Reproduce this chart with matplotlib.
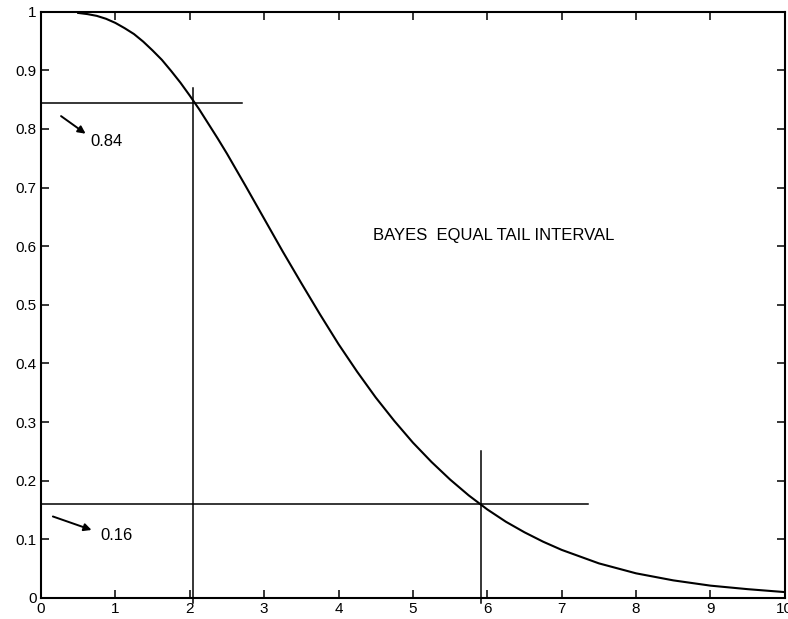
import numpy as np
import matplotlib
matplotlib.use("Agg")
import matplotlib.pyplot as plt

plt.rcParams['font.family'] = ['Liberation Sans', 'DejaVu Sans']

# posterior curve
mu = [0.5, 0.625, 0.75, 0.875, 1.0, 1.125, 1.25, 1.375, 1.5, 1.625, 1.75,
      1.875, 2.0, 2.125, 2.25, 2.375, 2.5, 2.75, 3.0, 3.25, 3.5,
      3.75, 4.0, 4.25, 4.5, 4.75, 5.0, 5.25, 5.5, 5.75, 6.0, 6.25, 6.5, 6.75,
      7.0, 7.5, 8.0, 8.5, 9.0, 9.5, 10.0]
prob = [0.998, 0.996, 0.993, 0.988, 0.981, 0.972, 0.962, 0.949, 0.934, 0.918,
        0.899, 0.879, 0.857, 0.834, 0.809, 0.784, 0.758, 0.703,
        0.647, 0.591, 0.537, 0.484, 0.433, 0.386, 0.342, 0.302, 0.265, 0.232,
        0.202, 0.175, 0.151, 0.130, 0.112, 0.096, 0.082, 0.059, 0.042, 0.030,
        0.021, 0.015, 0.010]

# interval limits
lower_mu, upper_mu = 2.05, 5.92
upper_p, lower_p = 0.845, 0.16
hline_ends = [2.7, 7.35]
vline_tops = [0.87, 0.25]

fig = plt.figure(figsize=(7.88, 6.19), dpi=100)
ax = fig.add_axes([0.052, 0.034, 0.944, 0.947])

ax.plot(mu, prob, color='black', lw=1.5)

ax.plot([0, hline_ends[0]], [upper_p, upper_p], color='black', lw=1.1)
ax.plot([0, hline_ends[1]], [lower_p, lower_p], color='black', lw=1.1)
ax.plot([lower_mu, lower_mu], [-0.008, vline_tops[0]], color='black', lw=1.1, clip_on=False)
ax.plot([upper_mu, upper_mu], [-0.008, vline_tops[1]], color='black', lw=1.1, clip_on=False)

arrow = dict(arrowstyle='-|>', color='black', lw=1.4, mutation_scale=11,
             shrinkA=0, shrinkB=0)
ax.annotate('', xy=(0.6, 0.792), xytext=(0.27, 0.822), arrowprops=arrow)
ax.text(0.66, 0.778, '0.84', fontsize=12, va='center')
ax.annotate('', xy=(0.68, 0.116), xytext=(0.16, 0.139), arrowprops=arrow)
ax.text(0.8, 0.107, '0.16', fontsize=12, va='center')

ax.text(4.47, 0.618, 'BAYES  EQUAL TAIL INTERVAL', fontsize=12, va='center')

ax.set_xlim(0, 10)
ax.set_ylim(0, 1)
ax.set_xticks(np.arange(0, 11, 1))
ax.set_yticks(np.arange(0, 1.01, 0.1))
ax.set_yticklabels(['0', '0.1', '0.2', '0.3', '0.4', '0.5', '0.6', '0.7',
                    '0.8', '0.9', '1'])
ax.tick_params(direction='in', length=6, width=1.1, top=True, right=True,
               labelsize=11, pad=3)
for s in ax.spines.values():
    s.set_linewidth(1.5)

fig.savefig('out.png', dpi=100)
